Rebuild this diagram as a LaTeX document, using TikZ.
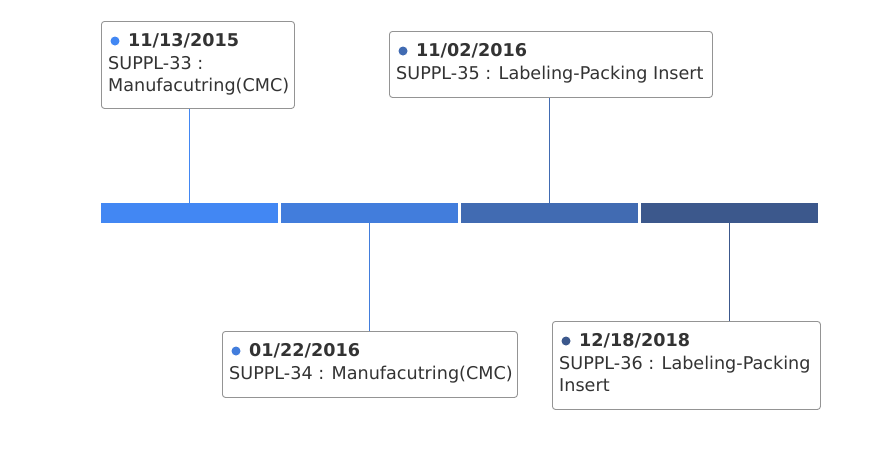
\documentclass[tikz,border=0pt]{standalone}
\usepackage{fontspec}
\usetikzlibrary{calc}
\setmainfont{DejaVu Sans}
\definecolor{segA}{RGB}{66,135,243}
\definecolor{segB}{RGB}{66,125,220}
\definecolor{segC}{RGB}{65,107,178}
\definecolor{segD}{RGB}{60,88,140}
\definecolor{txt}{RGB}{51,51,51}
\begin{document}
\begin{tikzpicture}[x=1pt,y=-1pt,
  seg/.style={fill=#1, draw=none, minimum width=177pt, minimum height=20pt, inner sep=0pt, anchor=north west},
  card/.style={draw=black!42, line width=0.9pt, rounded corners=3pt, fill=white, inner sep=0pt, anchor=north west},
  datetxt/.style={anchor=base west, inner sep=0pt, font=\fontsize{17.6}{19}\selectfont\bfseries, text=txt},
  bodytxt/.style={anchor=base west, inner sep=0pt, font=\fontsize{17.6}{19}\selectfont, text=txt},
  dot/.style={circle, fill=#1, inner sep=0pt, minimum size=9pt},
  conn/.style={fill=#1, draw=none}]
\useasboundingbox (0,0) rectangle (873,451);
% bar segments
\node[seg=segA] (s1) at (101,203) {};
\node[seg=segB] (s2) at (281,203) {};
\node[seg=segC] (s3) at (461,203) {};
\node[seg=segD] (s4) at (641,203) {};
% cards
\node[card, minimum width=193pt, minimum height=87pt] (b1) at (101,21) {};
\node[card, minimum width=323pt, minimum height=66pt] (b2) at (389,31) {};
\node[card, minimum width=295pt, minimum height=66pt] (b3) at (222,331) {};
\node[card, minimum width=268pt, minimum height=88pt] (b4) at (552,321) {};
% connectors
\path[conn=segA] ($(s1.north)+(-0.55,0)$) rectangle ($(s1.north |- b1.south)+(0.55,0)$);
\path[conn=segB] ($(s2.south)+(-0.55,0)$) rectangle ($(s2.south |- b3.north)+(0.55,0)$);
\path[conn=segC] ($(s3.north)+(-0.55,0)$) rectangle ($(s3.north |- b2.south)+(0.55,0)$);
\path[conn=segD] ($(s4.south)+(-0.55,0)$) rectangle ($(s4.south |- b4.north)+(0.55,0)$);
% card 1
\node[dot=segA] (d1) at (115,41) {};
\node[datetxt] (t1) at (128,46.5) {11/13/2015};
\node[bodytxt] (l1a) at (108,69) {SUPPL-33 :};
\node[bodytxt] (l1b) at (108,91.5) {Manufacutring(CMC)};
% card 2
\node[dot=segC] (d2) at (403,51) {};
\node[datetxt] (t2) at (416,56.5) {11/02/2016};
\node[bodytxt] (l2a) at (396,79) {SUPPL-35 : Labeling-Packing Insert};
% card 3
\node[dot=segB] (d3) at (236,351) {};
\node[datetxt] (t3) at (249,356.5) {01/22/2016};
\node[bodytxt] (l3a) at (229,379) {SUPPL-34 : Manufacutring(CMC)};
% card 4
\node[dot=segD] (d4) at (566,341) {};
\node[datetxt] (t4) at (579,346.5) {12/18/2018};
\node[bodytxt] (l4a) at (559,369) {SUPPL-36 : Labeling-Packing};
\node[bodytxt] (l4b) at (559,391.5) {Insert};
\end{tikzpicture}
\end{document}
